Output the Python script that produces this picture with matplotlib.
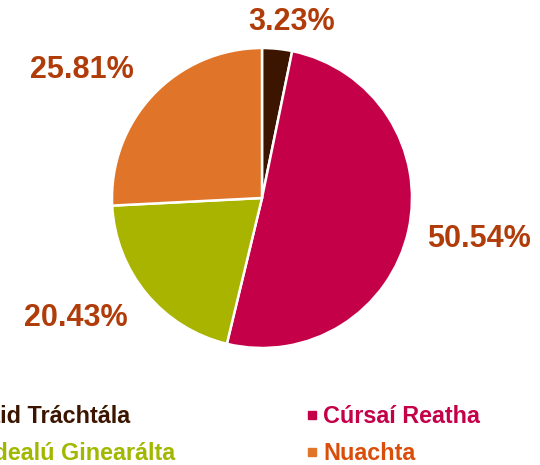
import matplotlib.pyplot as plt
from matplotlib.patches import Rectangle

# datos del gráfico
categorias = ["Cumarsáid Tráchtála", "Cúrsaí Reatha", "Idirdealú Ginearálta", "Nuachta"]
valores = [3.23, 50.54, 20.43, 25.81]
colores = ["#3B1500", "#C40048", "#A8B400", "#E07428"]
colores_texto = ["#3B1500", "#C40048", "#A2B800", "#DA4E0C"]
etiquetas = ["3.23%", "50.54%", "20.43%", "25.81%"]

color_pct = "#B03C0A"
fuente = "Liberation Sans"

fig = plt.figure(figsize=(5.4, 4.65), dpi=100)
ax = fig.add_axes([0, 0, 1, 1])

# pastel: empieza arriba y va en sentido horario
ax.pie(valores, colors=colores, startangle=90, counterclock=False,
       center=(262, 267), radius=150, frame=True,
       wedgeprops=dict(edgecolor="white", linewidth=1.8))
ax.set_xlim(0, 540)
ax.set_ylim(0, 465)
ax.axis("off")

# porcentajes
pos_pct = [(292, 443), (479, 226), (76, 147), (82, 395)]
for txt, (x, y) in zip(etiquetas, pos_pct):
    ax.text(x, y, txt, color=color_pct, fontsize=22, fontweight="bold",
            family=fuente, ha="center", va="center")

# leyenda (la columna izquierda queda cortada como en el original)
filas_y = [42, 5]
for i, (cat, col, coltxt) in enumerate(zip(categorias, colores, colores_texto)):
    y = filas_y[i // 2]
    if i % 2 == 0:
        fin = [130, 175][i // 2]
        ax.text(fin, y, cat, color=coltxt, fontsize=16.8, fontweight="bold",
                family=fuente, ha="right", va="baseline")
    else:
        ax.add_patch(Rectangle((308, y + 4), 8, 8, color=col))
        ax.text(323, y, cat, color=coltxt, fontsize=16.8, fontweight="bold",
                family=fuente, ha="left", va="baseline")

fig.savefig("out.png", dpi=100)
